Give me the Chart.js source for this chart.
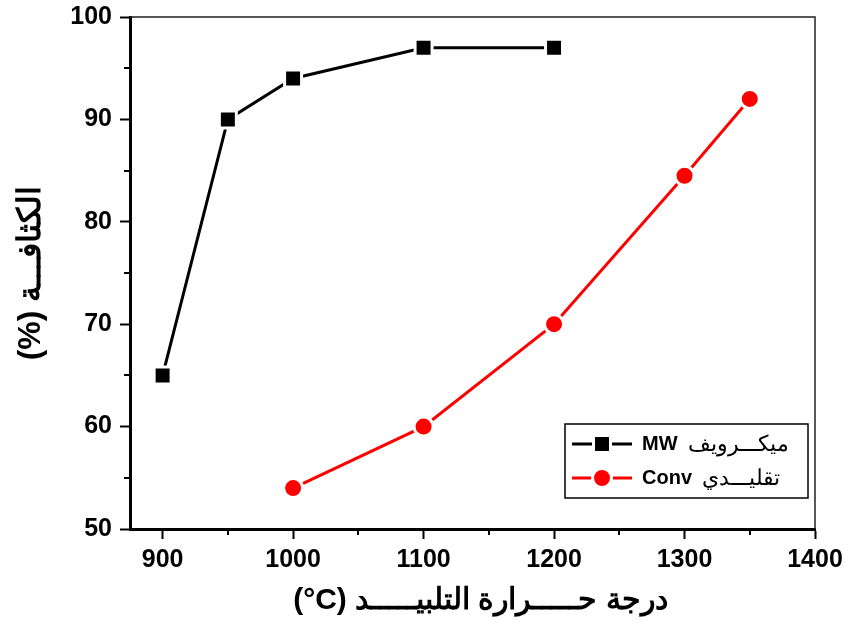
<!DOCTYPE html>
<html>
<head>
<meta charset="utf-8">
<script src="https://cdn.jsdelivr.net/npm/chart.js@4/dist/chart.umd.min.js"></script>
<style>
  html, body { margin: 0; padding: 0; background: #fff; }
  #wrap { width: 848px; height: 632px; }
</style>
</head>
<body>
<div id="wrap"><canvas id="c" width="848" height="632"></canvas></div>
<script>
// sintering temperature (°C) vs density (%)
const mwTemps = [900, 950, 1000, 1100, 1200];
const mwDensity = [65, 90, 94, 97, 97];
const convTemps = [1000, 1100, 1200, 1300, 1350];
const convDensity = [54, 60, 70, 84.5, 92];

const xMajorTicks = [900, 1000, 1100, 1200, 1300, 1400];
const xMinorTicks = [950, 1050, 1150, 1250, 1350];
const yMinorTicks = [55, 65, 75, 85, 95];

const mwLabel = ["MW", "ميكـــرويف"];
const convLabel = ["Conv", "تقليـــدي"];
const xTitle = "درجة حـــــرارة التلبيـــــد \u200E(°C)\u200E";
const yTitle = "(%)\u200E الكثافـــة";

const FONT = "'Liberation Sans', Arial, sans-serif";

const toPoints = (xs, ys) => xs.map((x, i) => ({ x, y: ys[i] }));

// minor ticks, top/right frame, x title and the legend box
const framePlugin = {
  id: "frame",
  afterDraw(chart) {
    const { ctx, chartArea: a, scales } = chart;
    ctx.save();
    ctx.strokeStyle = "#000";
    ctx.lineWidth = 2;
    xMinorTicks.forEach((v) => {
      const px = Math.round(scales.x.getPixelForValue(v));
      ctx.beginPath();
      ctx.moveTo(px, a.bottom);
      ctx.lineTo(px, a.bottom + 6);
      ctx.stroke();
    });
    yMinorTicks.forEach((v) => {
      const py = Math.round(scales.y.getPixelForValue(v));
      ctx.beginPath();
      ctx.moveTo(a.left, py);
      ctx.lineTo(a.left - 6, py);
      ctx.stroke();
    });
    ctx.lineWidth = 1.5;
    ctx.strokeStyle = "#222";
    ctx.beginPath();
    ctx.moveTo(a.left, a.top);
    ctx.lineTo(a.right, a.top);
    ctx.lineTo(a.right, a.bottom);
    ctx.stroke();

    // x axis title, right-to-left paragraph
    ctx.fillStyle = "#000";
    ctx.font = "bold 30px " + FONT;
    ctx.textBaseline = "middle";
    ctx.textAlign = "center";
    ctx.direction = "rtl";
    ctx.fillText(xTitle, (a.left + a.right) / 2 + 8, 601);
    ctx.direction = "ltr";

    // legend
    const bx = 565, by = 424, bw = 243, bh = 74;
    ctx.lineWidth = 1.5;
    ctx.strokeStyle = "#000";
    ctx.strokeRect(bx, by, bw, bh);
    const rows = [
      { ds: chart.data.datasets[0], label: mwLabel, y: by + 20 },
      { ds: chart.data.datasets[1], label: convLabel, y: by + 54 },
    ];
    rows.forEach((r) => {
      ctx.strokeStyle = r.ds.borderColor;
      ctx.lineWidth = 3;
      ctx.beginPath();
      ctx.moveTo(572, r.y);
      ctx.lineTo(632, r.y);
      ctx.stroke();
      ctx.fillStyle = r.ds.pointBackgroundColor;
      ctx.strokeStyle = "#fff";
      ctx.lineWidth = r.ds.pointBorderWidth;
      Chart.helpers.drawPoint(ctx, {
        pointStyle: r.ds.pointStyle,
        radius: r.ds.pointRadius,
        borderWidth: r.ds.pointBorderWidth,
        rotation: 0,
      }, 602, r.y);
      ctx.fillStyle = "#000";
      ctx.textBaseline = "middle";
      ctx.textAlign = "left";
      ctx.font = "bold 20px " + FONT;
      ctx.fillText(r.label[0], 642, r.y);
      const w = ctx.measureText(r.label[0]).width;
      ctx.font = "22px " + FONT;
      ctx.fillText(r.label[1], 642 + w + 10, r.y + 1);
    });
    ctx.restore();
  },
};

const ctx = document.getElementById("c");
new Chart(ctx, {
  type: "scatter",
  data: {
    datasets: [
      {
        label: "MW",
        data: toPoints(mwTemps, mwDensity),
        showLine: true,
        borderColor: "#000",
        borderWidth: 3,
        pointStyle: "rect",
        pointRadius: 12,
        pointBackgroundColor: "#000",
        pointBorderColor: "#fff",
        pointBorderWidth: 3,
        tension: 0,
      },
      {
        label: "Conv",
        data: toPoints(convTemps, convDensity),
        showLine: true,
        borderColor: "#ff0000",
        borderWidth: 3,
        pointStyle: "circle",
        pointRadius: 9.5,
        pointBackgroundColor: "#ff0000",
        pointBorderColor: "#fff",
        pointBorderWidth: 3,
        tension: 0,
      },
    ],
  },
  options: {
    responsive: false,
    animation: false,
    layout: { padding: { top: 17, right: 33, left: 0, bottom: 0 } },
    plugins: { legend: { display: false }, tooltip: { enabled: false } },
    scales: {
      x: {
        type: "linear",
        min: 875,
        max: 1400,
        afterBuildTicks: (s) => { s.ticks = xMajorTicks.map((v) => ({ value: v })); },
        afterFit: (s) => { s.height = 103; s.paddingLeft = 0; s.paddingRight = 0; },
        grid: { drawOnChartArea: false, tickLength: 10, tickWidth: 2, tickColor: "#000" },
        border: { color: "#000", width: 3 },
        ticks: {
          color: "#000",
          padding: 6,
          maxRotation: 0,
          callback: (v) => String(v),
          font: { family: FONT, size: 25, weight: "bold" },
        },
      },
      y: {
        min: 50,
        max: 100,
        ticks: { stepSize: 10, color: "#000", padding: 8, font: { family: FONT, size: 25, weight: "bold" } },
        afterFit: (s) => { s.width = 130; s.paddingTop = 0; s.paddingBottom = 0; },
        grid: { drawOnChartArea: false, tickLength: 10, tickWidth: 2, tickColor: "#000" },
        border: { color: "#000", width: 3 },
        title: {
          display: true,
          text: yTitle,
          color: "#000",
          padding: { top: 12, bottom: 0 },
          font: { family: FONT, size: 32, weight: "bold" },
        },
      },
    },
  },
  plugins: [framePlugin],
});
</script>
</body>
</html>
